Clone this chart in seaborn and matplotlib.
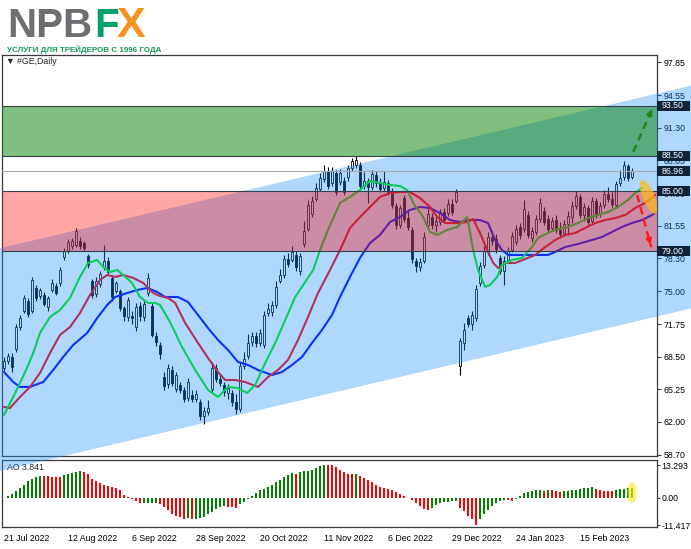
import numpy as np
import matplotlib
matplotlib.use('Agg')
import matplotlib.pyplot as plt
from matplotlib.patches import Polygon, Ellipse, Rectangle
from matplotlib.transforms import ScaledTranslation, blended_transform_factory
import seaborn as sns

# ---- daily candles #GE ----
opens = [67.4, 68.1, 68.5, 69.3, 71.5, 73.0, 74.0, 73.0, 75.3, 74.5, 74.6, 73.4, 75.1, 75.5, 75.8, 78.4,
         79.0, 79.5, 79.6, 80.0, 79.8, 78.5, 76.0, 74.7, 75.7, 77.4, 78.0, 76.3, 75.0, 75.0, 73.3, 72.4,
         72.5, 71.5, 73.5, 72.4, 74.8, 73.5, 70.6, 69.7, 66.5, 65.8, 67.2, 65.3, 65.7, 65.2, 64.4, 64.7,
         64.3, 64.0, 62.6, 63.0, 65.3, 67.4, 66.3, 65.7, 64.9, 64.9, 64.0, 63.3, 67.6, 68.6, 70.0, 70.6,
         69.9, 69.7, 72.8, 72.9, 73.6, 76.0, 76.6, 78.2, 78.1, 78.6, 77.0, 79.7, 81.2, 82.7, 84.2, 85.2,
         86.2, 87.0, 85.8, 86.8, 85.9, 86.0, 86.4, 87.3, 87.6, 87.6, 85.5, 86.0, 85.4, 86.6, 85.8, 85.3,
         85.8, 85.0, 83.5, 81.6, 84.3, 82.3, 81.1, 78.0, 77.4, 78.0, 81.6, 82.4, 81.6, 81.9, 82.9, 82.8,
         83.7, 84.0, 67.6, 69.9, 72.3, 71.8, 72.3, 75.8, 77.6, 78.9, 80.4, 80.2, 78.3, 77.0, 78.1, 79.1,
         79.9, 81.4, 81.2, 82.6, 80.3, 80.9, 82.2, 83.0, 82.2, 81.3, 82.1, 81.1, 80.8, 81.7, 82.4, 83.5,
         84.4, 82.6, 83.3, 82.0, 84.0, 82.7, 83.6, 84.7, 84.2, 83.6, 85.8, 86.4, 87.5, 86.4]
highs = [68.5, 68.9, 68.9, 71.8, 72.6, 74.6, 74.3, 76.4, 75.6, 75.3, 74.9, 74.5, 76.2, 75.8, 77.4, 79.3,
         80.2, 80.3, 81.3, 80.4, 80.0, 78.7, 76.2, 76.4, 77.0, 79.6, 78.4, 76.6, 76.0, 75.2, 73.5, 74.4,
         73.0, 73.8, 73.9, 74.0, 76.8, 73.8, 71.0, 70.0, 67.0, 67.8, 67.6, 67.0, 66.0, 65.5, 66.4, 65.2,
         65.2, 64.3, 63.5, 64.2, 68.0, 67.8, 66.8, 66.0, 65.8, 65.2, 64.8, 68.0, 69.0, 70.8, 71.0, 71.0,
         71.3, 73.0, 73.8, 74.0, 76.0, 77.2, 78.6, 78.8, 79.5, 79.0, 78.8, 82.0, 84.1, 84.5, 85.8, 86.8,
         87.6, 87.4, 87.4, 87.1, 87.2, 86.4, 87.6, 88.3, 88.5, 87.9, 86.9, 86.3, 87.1, 87.0, 86.3, 87.0,
         86.1, 85.3, 83.8, 83.6, 84.6, 83.2, 81.4, 78.3, 78.3, 80.9, 83.3, 82.8, 82.4, 83.2, 83.3, 84.2,
         84.2, 85.2, 70.4, 71.9, 72.6, 73.0, 75.6, 77.9, 79.5, 80.9, 81.0, 80.7, 78.6, 78.5, 79.4, 80.9,
         81.6, 81.8, 84.1, 83.0, 81.4, 82.6, 84.3, 83.4, 82.6, 82.4, 82.6, 81.9, 82.1, 83.0, 84.0, 85.0,
         84.7, 83.8, 83.6, 84.4, 84.3, 83.9, 85.1, 85.4, 84.9, 86.0, 87.1, 88.0, 87.7, 87.3]
lows = [67.0, 67.8, 67.0, 69.0, 71.2, 72.8, 72.4, 72.8, 74.0, 74.2, 73.5, 73.0, 74.9, 74.6, 75.5, 78.1,
        78.8, 79.2, 79.4, 79.2, 79.0, 77.3, 74.3, 74.4, 75.4, 77.1, 76.6, 74.0, 74.8, 73.0, 72.0, 72.0,
        71.8, 71.1, 72.0, 72.0, 74.5, 70.5, 69.6, 68.3, 65.2, 65.4, 65.6, 65.0, 64.9, 64.0, 64.1, 64.0,
        64.0, 62.2, 61.8, 62.7, 65.0, 66.0, 65.6, 64.6, 64.3, 63.6, 62.8, 63.0, 67.3, 68.3, 69.6, 69.5,
        69.6, 69.4, 72.5, 72.5, 73.3, 75.8, 76.3, 77.4, 77.9, 77.0, 76.6, 79.4, 81.0, 82.4, 84.0, 85.0,
        85.9, 85.2, 85.5, 84.6, 85.6, 84.6, 86.0, 87.0, 87.3, 85.2, 85.2, 83.8, 85.1, 85.4, 84.9, 85.0,
        84.6, 83.3, 81.2, 81.3, 81.9, 81.1, 77.8, 76.9, 77.0, 77.8, 81.3, 81.2, 80.9, 81.6, 81.8, 82.5,
        82.6, 83.8, 66.7, 69.2, 71.5, 71.2, 72.0, 75.5, 77.3, 78.6, 79.6, 78.8, 76.7, 75.6, 77.8, 78.9,
        79.6, 80.2, 80.9, 80.3, 79.9, 80.6, 81.9, 81.6, 80.9, 81.0, 80.8, 80.3, 80.5, 80.6, 81.8, 83.2,
        82.3, 82.0, 81.6, 81.8, 82.3, 82.4, 83.3, 83.9, 83.4, 83.3, 85.5, 86.1, 86.0, 86.2]
closes = [68.1, 68.6, 67.5, 71.5, 72.3, 74.3, 72.7, 76.1, 74.3, 75.1, 73.7, 74.3, 75.8, 74.8, 77.1, 79.0,
          79.9, 80.0, 81.0, 79.5, 79.3, 77.6, 74.6, 76.0, 76.7, 78.0, 76.9, 74.4, 75.8, 73.3, 72.5, 74.1,
          72.3, 73.4, 72.5, 73.7, 76.3, 70.7, 70.0, 68.8, 65.6, 67.4, 65.9, 66.7, 65.2, 64.3, 66.0, 64.3,
          64.8, 62.6, 63.1, 63.4, 67.4, 66.3, 65.9, 65.0, 65.4, 64.0, 63.3, 67.6, 68.3, 69.9, 70.6, 69.9,
          70.9, 72.6, 73.2, 73.6, 75.4, 76.6, 78.2, 77.7, 78.9, 77.4, 78.5, 81.0, 83.6, 84.0, 85.3, 86.3,
          87.0, 85.5, 87.0, 84.9, 86.8, 84.9, 87.3, 88.0, 88.1, 85.5, 86.0, 85.4, 86.7, 85.8, 85.2, 85.9,
          84.9, 83.6, 81.6, 83.3, 82.2, 81.4, 78.2, 77.5, 77.9, 80.4, 82.7, 81.6, 82.0, 82.9, 82.1, 83.7,
          82.9, 84.9, 70.1, 71.2, 71.8, 72.6, 75.2, 77.5, 79.0, 80.4, 80.0, 79.2, 77.0, 78.0, 79.0, 80.5,
          81.2, 80.6, 83.2, 80.6, 81.0, 82.2, 83.8, 81.9, 81.2, 82.0, 81.1, 80.7, 81.7, 82.5, 83.5, 84.5,
          82.6, 83.4, 81.9, 84.0, 82.6, 83.5, 84.7, 84.2, 83.7, 85.7, 86.3, 87.6, 86.3, 86.96]

# ---- Alligator lines (bar position / price) ----
lips_x = [0, 2.8, 5.3, 7.3, 9, 11.5, 14, 16.5, 19, 21, 23.3, 24.8, 26.5, 28.3, 29.8, 32, 34, 36, 37.8, 39,
          41.5, 44.5, 47.8, 51, 53.5, 56, 58.3, 60.8, 62.8, 65.3, 67.8, 70.3, 72.8, 75.3, 77.3, 79, 81, 84,
          86.5, 89, 91.5, 94, 96.5, 99, 100.8, 102.3, 104.8, 106.5, 108.3, 110.8, 113.3, 115.8, 117.3,
          118.5, 120.3, 121.5, 123.3, 124.5, 127, 129.5, 132, 133.5, 136, 138.5, 141, 143.5, 146, 148.5,
          151, 153.5, 156, 157.8, 159.5]
lips_y = [62.69, 64.88, 66.97, 68.86, 70.86, 72.45, 73.15, 74.34, 76.44, 77.83, 78.13, 77.43, 76.93, 77.13,
          76.63, 75.84, 74.44, 73.85, 73.85, 73.65, 71.95, 69.46, 67.17, 65.18, 64.48, 65.48, 65.38, 64.88,
          65.68, 67.87, 69.86, 72.15, 74.44, 75.94, 77.13, 79.12, 81.12, 83.81, 84.41, 85.10, 86.00, 85.80,
          85.60, 85.50, 85.10, 83.81, 82.41, 80.92, 80.62, 81.12, 81.42, 82.41, 79.12, 77.13, 75.44, 75.64,
          76.44, 77.63, 78.13, 78.33, 79.42, 80.32, 80.82, 81.22, 81.42, 81.81, 82.31, 82.61, 82.91, 83.41,
          84.11, 84.80, 85.30]
teeth_x = [0, 1.5, 4, 6.5, 9, 11.5, 14, 16.5, 19, 21.5, 24, 25.8, 27.8, 29.8, 32.3, 34.8, 37.3, 39, 41, 42.8,
           45.3, 48.5, 51, 53.5, 55.3, 57.8, 60.3, 63.5, 66, 68.5, 71, 73.5, 76, 78.5, 81.5, 84, 86.5, 89,
           91.5, 94, 96.5, 99, 101.5, 104, 106.5, 108.3, 110.3, 113.3, 115.8, 117.3, 119, 120.8, 122.3,
           123.5, 125.3, 127.8, 130.3, 132.8, 135.3, 137.8, 140.3, 142.8, 145.3, 147.8, 150.3, 152.8,
           155.3, 157.8, 160.3, 162.8]
teeth_y = [63.48, 63.38, 64.48, 65.48, 66.87, 68.86, 70.66, 71.45, 72.85, 74.64, 76.14, 76.63, 76.44, 76.63,
           76.34, 75.84, 74.84, 74.54, 74.34, 73.85, 71.85, 69.86, 68.37, 66.97, 66.17, 66.17, 65.97, 65.48,
           66.47, 67.17, 68.17, 70.16, 72.45, 74.84, 77.13, 79.12, 81.32, 82.41, 83.41, 84.41, 84.80, 84.90,
           84.90, 84.30, 83.41, 82.41, 81.81, 81.81, 81.91, 82.21, 80.82, 79.12, 77.83, 77.33, 77.83, 77.83,
           78.23, 78.63, 79.42, 80.12, 80.62, 80.82, 81.32, 81.81, 82.11, 82.31, 82.61, 83.31, 83.81, 84.60]
jaw_x = [0, 2.3, 4, 6.5, 9.8, 12.3, 14.8, 17.3, 20.8, 23.3, 25.8, 27.8, 30.8, 33.3, 35.8, 38.3, 40.3, 43.5,
         46, 48.5, 51, 53.5, 56, 58.5, 61, 63.5, 67, 69.5, 72, 74.5, 77, 79.5, 82, 84, 86.5, 89, 91.5, 94,
         96.5, 99, 101.5, 104, 106.5, 109, 111.5, 114, 116.5, 119, 121, 122.8, 124.5, 126, 129.5, 132.8,
         136, 137.8, 140.3, 143.5, 147, 149.5, 152, 154.5, 157, 159.5, 162, 163.3]
jaw_y = [66.97, 65.97, 65.48, 65.48, 65.97, 67.17, 68.47, 69.66, 70.86, 72.35, 73.65, 74.44, 74.84, 75.14,
         75.34, 74.94, 74.44, 74.44, 73.94, 72.65, 71.35, 70.16, 69.16, 67.97, 67.67, 67.17, 66.67, 66.97,
         67.67, 68.47, 69.86, 71.16, 72.65, 74.44, 76.44, 78.33, 79.82, 80.62, 81.91, 82.41, 83.11, 83.41,
         83.31, 82.81, 82.11, 81.91, 82.11, 82.11, 81.81, 80.12, 79.12, 78.63, 78.63, 78.63, 78.63, 78.93,
         79.42, 79.72, 80.12, 80.42, 80.92, 81.42, 81.81, 82.11, 82.61, 82.91]

# ---- Awesome Oscillator ----
ao = [-0.27, 0.67, 1.60, 2.66, 3.99, 5.32, 6.65, 7.71, 8.51, 8.91, 8.78, 8.65, 8.58, 8.51, 8.45, 9.04,
      9.58, 9.98, 10.37, 10.77, 10.51, 9.58, 7.71, 6.65, 5.85, 5.05, 4.79, 4.39, 3.72, 2.93, 1.06, 0.13,
      -0.80, -1.33, -2.39, -2.33, -2.26, -2.19, -2.13, -2.66, -3.99, -5.32, -6.65, -7.58, -8.11, -8.65,
      -8.51, -8.91, -8.65, -8.38, -7.85, -6.92, -5.99, -4.79, -3.99, -3.59, -3.72, -3.99, -4.12, -2.79,
      -1.73, -0.80, 0.67, 1.86, 2.93, 3.59, 4.26, 5.32, 6.38, 7.32, 8.25, 9.18, 9.98, 9.84, 10.64, 10.71,
      10.91, 11.31, 11.97, 13.03, 13.293, 13.23, 13.17, 12.64, 11.44, 10.64, 9.84, 9.58, 9.71, 8.78, 7.98,
      7.18, 6.38, 5.32, 4.39, 3.72, 3.46, 3.06, 2.13, 1.33, 0.53, -0.10, -0.93, -2.26, -3.59, -4.52, -4.92,
      -4.26, -2.93, -2.26, -2.00, -1.73, -1.60, -1.33, -4.26, -5.59, -7.58, -8.91, -11.417, -8.91, -6.92,
      -5.32, -3.59, -2.26, -1.33, -1.06, -1.20, -1.33, -0.53, 0.80, 1.73, 2.39, 2.66, 2.93, 3.06, 2.79,
      3.06, 2.93, 2.66, 2.39, 2.53, 2.66, 2.93, 3.19, 3.46, 3.72, 3.99, 4.26, 3.46, 3.06, 2.79, 2.66, 2.53,
      2.93, 3.33, 3.59, 3.72, 3.841]

price_ticks = [97.85, 94.55, 91.30, 88.05, 84.80, 81.55, 78.30, 75.00, 71.75, 68.50, 65.25, 62.00, 58.70]
marked_levels = [93.50, 88.50, 86.96, 85.00, 79.00]
buy_zone = [88.50, 93.50]
sell_zone = [79.00, 85.00]
current_price = 86.96
channel_x = [-1.0, 163.25]
channel_top = [79.3, 94.7]
channel_bot = [57.1, 72.5]
arrow_up = [(157.3, 88.9), (162.3, 93.4)]
arrow_down = [(158.3, 84.6), (161.8, 79.4)]
focus_point = (161.2, 84.4)
date_pos = [0, 16, 32, 48, 64, 80, 96, 112, 128, 144]
date_labels = ['21 Jul 2022', '12 Aug 2022', '6 Sep 2022', '28 Sep 2022', '20 Oct 2022',
               '11 Nov 2022', '6 Dec 2022', '29 Dec 2022', '24 Jan 2023', '15 Feb 2023']

sns.set_style('white')
plt.rcParams['font.family'] = ['Liberation Sans', 'DejaVu Sans']
plt.rcParams['axes.unicode_minus'] = False
FS = 6.3
AXC = '#3a3a3a'

fig = plt.figure(figsize=(6.91, 5.49), dpi=100)
fig.patch.set_facecolor('white')
W, H = 691, 549
ax = fig.add_axes([2 / W, (H - 456) / H, 655 / W, 401 / H])
ax_ao = fig.add_axes([2 / W, (H - 527) / H, 655 / W, 67 / H])
ax.set_zorder(2)
ax_ao.set_zorder(1)

o, hi, lo, c = map(np.array, (opens, highs, lows, closes))
x = np.arange(len(o))
up = c >= o

# candles
ax.vlines(x, lo, hi, color='black', lw=0.8, zorder=2)
ax.bar(x[up], (c - o)[up], bottom=o[up], width=0.62, color='white', edgecolor='black', lw=0.6, zorder=3)
ax.bar(x[~up], (o - c)[~up], bottom=c[~up], width=0.62, color='black', edgecolor='black', lw=0.6, zorder=3)

# alligator lines
sns.lineplot(x=jaw_x, y=jaw_y, color='#0000ff', lw=1.5, ax=ax, zorder=4, legend=False)
sns.lineplot(x=teeth_x, y=teeth_y, color='#ff0000', lw=1.5, ax=ax, zorder=4, legend=False)
sns.lineplot(x=lips_x, y=lips_y, color='#00ee00', lw=1.5, ax=ax, zorder=4, legend=False)

ax.set_xlim(-0.5, 163.25)
ax.set_ylim(58.6, 98.55)

# trend channel (overlay)
slope = (channel_top[1] - channel_top[0]) / (channel_x[1] - channel_x[0])
xs = np.array([-3.0, 176.0])
top = channel_top[0] + slope * (xs - channel_x[0])
bot = channel_bot[0] + slope * (xs - channel_x[0])
ax.add_patch(Polygon([(xs[0], top[0]), (xs[1], top[1]), (xs[1], bot[1]), (xs[0], bot[0])],
                     closed=True, fc='#1e90ff', alpha=0.35, ec='none', zorder=5, clip_on=False))
ax.axhspan(sell_zone[0], sell_zone[1], color='#ff0000', alpha=0.35, lw=0, zorder=5)
ax.axhspan(buy_zone[0], buy_zone[1], color='#008000', alpha=0.5, lw=0, zorder=5)
for lv in [buy_zone[1], buy_zone[0], sell_zone[1], sell_zone[0]]:
    ax.axhline(lv, color='#34414c', lw=0.8, zorder=6)
ax.axhline(current_price, color='#a8a8a8', lw=0.8, zorder=6)

# forecast arrows and highlight
for (p0, p1), col in [(arrow_up, '#1b8a1b'), (arrow_down, '#ff1a1a')]:
    ax.plot([p0[0], p1[0]], [p0[1], p1[1]], color=col, lw=1.8, ls=(0, (3, 2)), zorder=7)
    ax.annotate('', xy=p1, xytext=(p0[0] + 0.8 * (p1[0] - p0[0]), p0[1] + 0.8 * (p1[1] - p0[1])),
                arrowprops=dict(arrowstyle='-|>', color=col, lw=1.2, mutation_scale=9), zorder=7)
tr = fig.dpi_scale_trans + ScaledTranslation(focus_point[0], focus_point[1], ax.transData)
ax.add_patch(Ellipse((0, 0), 0.37, 0.12, angle=-67, transform=tr, fc='#ffbb10', alpha=0.7,
                     ec='none', zorder=6))

# price axis
ax.yaxis.tick_right()
ax.set_yticks(price_ticks)
ax.set_yticklabels([f'{v:.2f}' for v in price_ticks])
ax.tick_params(axis='y', labelsize=FS, length=3, width=0.8, color=AXC, pad=2, labelcolor='black')
ax.set_xticks([])
for s in ax.spines.values():
    s.set_color(AXC)
    s.set_linewidth(0.9)
ax.set_xlabel('')
ax.set_ylabel('')

bt = blended_transform_factory(ax.transAxes, ax.transData)
for lv in marked_levels:
    ax.add_patch(Rectangle((1.0, lv - 0.5), 33 / 655, 1.0, transform=bt, fc='#0e2238', ec='none',
                           clip_on=False, zorder=8))
    ax.text(1.0 + 5 / 655, lv, f'{lv:.2f}', transform=bt, color='white', fontsize=FS, va='center',
            ha='left', zorder=9, clip_on=False)

ax.text(0.006, 1 - 7 / 401, '▼ #GE,Daily', transform=ax.transAxes, fontsize=FS, va='center', ha='left',
        zorder=9)

# AO panel
ao_arr = np.array(ao)
ao_col = ['#008000'] + ['#008000' if ao_arr[i] >= ao_arr[i - 1] else '#ff0000' for i in range(1, len(ao_arr))]
ax_ao.bar(np.arange(len(ao_arr)), ao_arr, width=0.62, color=ao_col, lw=0, zorder=2)
ax_ao.set_xlim(-0.5, 163.25)
ax_ao.set_ylim(-12.1, 15.4)
ax_ao.add_patch(Ellipse((0, 0), 0.09, 0.21, transform=fig.dpi_scale_trans +
                        ScaledTranslation(len(ao_arr) - 1, ao_arr[-1] / 2, ax_ao.transData),
                        fc='#ffe52a', alpha=0.65, ec='none', zorder=3))
ax_ao.yaxis.tick_right()
ao_ticks = [max(ao), 0.0, min(ao)]
ax_ao.set_yticks(ao_ticks)
ax_ao.set_yticklabels([f'{max(ao):.3f}', '0.00', f'{min(ao):.3f}'])
ax_ao.set_xticks(date_pos)
ax_ao.set_xticklabels(date_labels, ha='left')
ax_ao.tick_params(axis='both', labelsize=FS, length=3, width=0.8, color=AXC, pad=2, labelcolor='black')
ax_ao.tick_params(axis='y', length=2, pad=1)
for s in ax_ao.spines.values():
    s.set_color(AXC)
    s.set_linewidth(0.9)
ax_ao.text(0.008, 1 - 7 / 67, f'AO {ao_arr[-1]:.3f}', transform=ax_ao.transAxes, fontsize=FS,
           va='center', ha='left', zorder=5)

# header logo
fig.text(7 / W, 1 - 37 / H, 'NPB', fontsize=29, fontweight='bold', color='#6d6e71', va='baseline')
fig.text(94 / W, 1 - 37 / H, 'F', fontsize=29, fontweight='bold', color='#00a06a', va='baseline')
fig.text(117 / W, 1 - 37 / H, 'X', fontsize=31, fontweight='bold', color='#f7941d', va='baseline')
fig.text(7 / W, 1 - 52 / H, 'УСЛУГИ ДЛЯ ТРЕЙДЕРОВ С 1996 ГОДА', fontsize=5.8, fontweight='bold',
         color='#17985a', va='baseline', family=['Liberation Sans Narrow', 'Liberation Sans', 'DejaVu Sans'])

fig.savefig('out.png', dpi=100)
